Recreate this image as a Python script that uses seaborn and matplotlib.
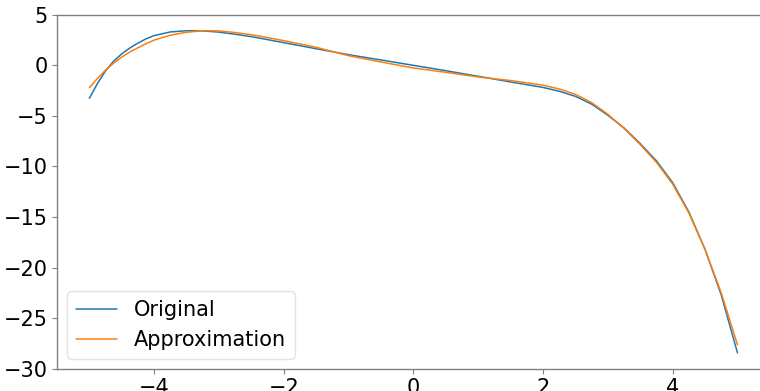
import matplotlib
matplotlib.use("Agg")
import matplotlib.pyplot as plt
import seaborn as sns

# values
x_vals = [-5.0, -4.875, -4.75, -4.625, -4.5, -4.375, -4.25, -4.125, -4.0, -3.75,
          -3.5, -3.25, -3.0, -2.75, -2.5, -2.25, -2.0, -1.5, -1.0, -0.5,
          0.0, 0.5, 1.0, 1.5, 1.75, 2.0, 2.25, 2.5, 2.75, 3.0,
          3.25, 3.5, 3.75, 4.0, 4.25, 4.5, 4.75, 5.0]

original = [-3.27, -1.8, -0.55, 0.4, 1.12, 1.7, 2.18, 2.6, 2.92, 3.28,
            3.4, 3.38, 3.26, 3.05, 2.81, 2.52, 2.22, 1.62, 1.03, 0.51,
            -0.02, -0.55, -1.1, -1.66, -1.93, -2.2, -2.58, -3.08, -3.85, -4.95,
            -6.2, -7.75, -9.45, -11.6, -14.5, -18.2, -22.7, -28.4]

approximation = [-2.22, -1.3, -0.48, 0.2, 0.8, 1.3, 1.72, 2.12, 2.48, 2.96,
                 3.25, 3.4, 3.38, 3.22, 3.0, 2.72, 2.42, 1.76, 0.93, 0.31,
                 -0.28, -0.71, -1.17, -1.52, -1.74, -1.98, -2.35, -2.88, -3.7, -4.85,
                 -6.25, -7.85, -9.6, -11.75, -14.6, -18.2, -22.5, -27.6]

sns.set_theme(style='ticks')
plt.rcParams['font.family'] = ['DejaVu Sans']
plt.rcParams['axes.unicode_minus'] = True

fig = plt.figure(figsize=(7.6, 3.91), dpi=100)
ax = fig.add_axes([0.075, 0.0563, 0.938, 0.9066])

sns.lineplot(x=x_vals, y=original, ax=ax, color='tab:blue', lw=1.1, label='Original')
sns.lineplot(x=x_vals, y=approximation, ax=ax, color='tab:orange', lw=1.1, label='Approximation')

ax.set_ylim(-30, 5)
ax.set_xlim(-5.5, 5.5)
ax.set_yticks([5, 0, -5, -10, -15, -20, -25, -30])
ax.set_xticks([-4, -2, 0, 2, 4])
ax.tick_params(labelsize=15, length=3.5, width=0.8, color='#808080',
               labelcolor='black', pad=3)

for side in ax.spines.values():
    side.set_color('#808080')
    side.set_linewidth(1.0)

leg = ax.legend(loc='lower left', fontsize=15, frameon=True, fancybox=True,
                framealpha=0.8, edgecolor='#dddddd')
for txt in leg.get_texts():
    txt.set_color('black')

fig.savefig('out.png', dpi=100)
